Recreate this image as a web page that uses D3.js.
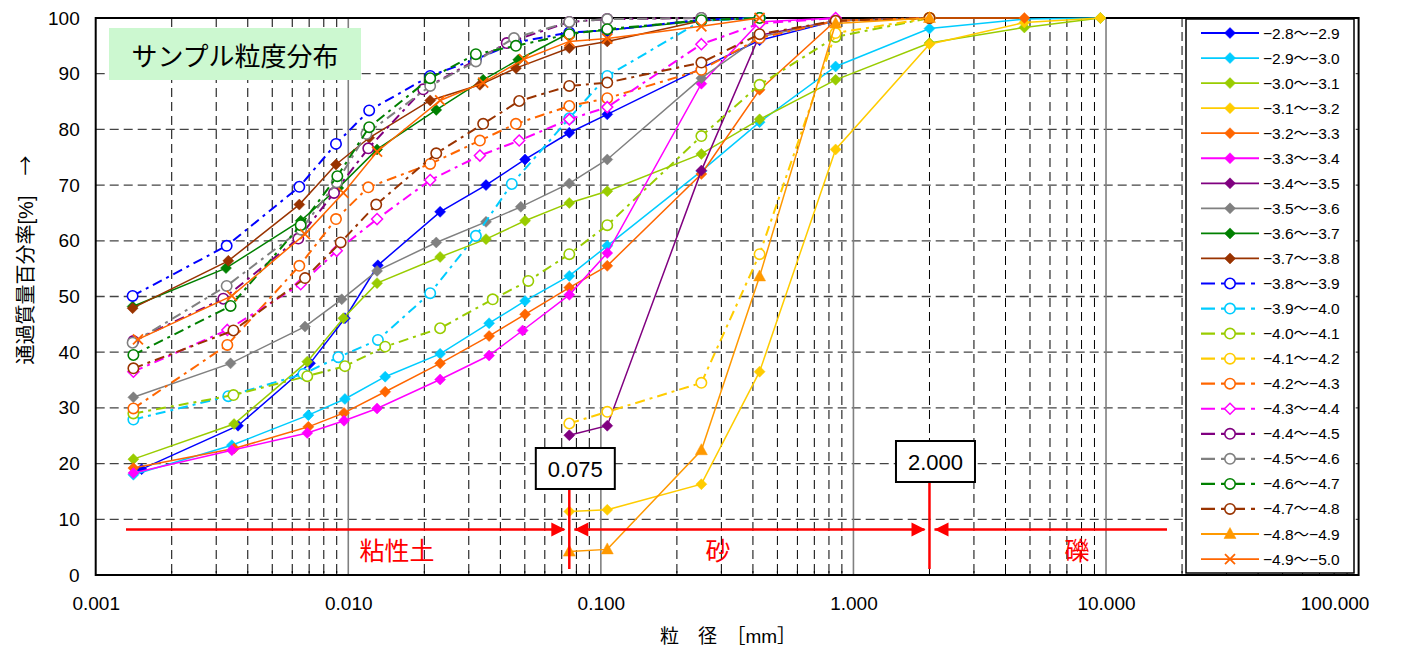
<!DOCTYPE html>
<html>
<head>
<meta charset="utf-8">
<script src="https://cdn.jsdelivr.net/npm/d3@7"></script>
<style>
  body { margin: 0; background: #fff; }
  text { font-family: "Liberation Sans", "Noto Sans CJK JP", sans-serif; }
</style>
</head>
<body>
<svg id="chart" width="1402" height="653"></svg>
<script>
// series names (legend order)
var legendLabels = [
  "−2.8〜−2.9", "−2.9〜−3.0", "−3.0〜−3.1", "−3.1〜−3.2", "−3.2〜−3.3",
  "−3.3〜−3.4", "−3.4〜−3.5", "−3.5〜−3.6", "−3.6〜−3.7", "−3.7〜−3.8",
  "−3.8〜−3.9", "−3.9〜−4.0", "−4.0〜−4.1", "−4.1〜−4.2", "−4.2〜−4.3",
  "−4.3〜−4.4", "−4.4〜−4.5", "−4.5〜−4.6", "−4.6〜−4.7", "−4.7〜−4.8",
  "−4.8〜−4.9", "−4.9〜−5.0"
];

// [grain size mm, passing %]
var s01 = [[0.00152,19.0],[0.00366,26.8],[0.00706,38.0],[0.0097,46.1],[0.0131,55.6],[0.0231,65.2],[0.0351,70.0],[0.0501,74.6],[0.075,79.4],[0.106,82.7],[0.25,91.0],[0.425,96.0],[0.85,99.5],[2.0,100]];
var s02 = [[0.00141,18.0],[0.00346,23.3],[0.00695,28.7],[0.0097,31.6],[0.0140,35.6],[0.0231,39.7],[0.0361,45.2],[0.0501,49.2],[0.075,53.7],[0.106,59.1],[0.25,72.5],[0.425,81.3],[0.85,91.3],[2.0,98.1],[4.75,99.8],[9.5,100]];
var s03 = [[0.00141,20.8],[0.00353,27.1],[0.00688,38.3],[0.00956,46.1],[0.0130,52.4],[0.0231,57.1],[0.0351,60.3],[0.0501,63.6],[0.075,66.8],[0.106,68.9],[0.25,75.6],[0.425,81.8],[0.85,88.9],[2.0,95.5],[4.75,98.3],[9.5,100]];
var s04 = [[0.075,11.4],[0.106,11.7],[0.25,16.3],[0.425,36.5],[0.85,76.4],[2.0,95.3],[4.75,99.2],[9.5,100]];
var s05 = [[0.00141,19.2],[0.00353,22.7],[0.00695,26.6],[0.00962,29.1],[0.0140,32.9],[0.0231,38.0],[0.0361,42.9],[0.0501,46.8],[0.075,51.6],[0.106,55.5],[0.25,72.0],[0.425,87.1],[0.85,99.5],[2.0,100],[4.75,100]];
var s06 = [[0.00141,18.3],[0.00346,22.4],[0.00688,25.5],[0.00962,27.7],[0.0130,29.9],[0.0231,35.1],[0.0361,39.4],[0.0490,43.9],[0.075,50.3],[0.106,57.8],[0.25,88.2],[0.425,99.3],[0.85,100]];
var s07 = [[0.075,25.1],[0.106,26.8],[0.25,72.6],[0.425,96.9],[0.85,99.5],[2.0,100]];
var s08 = [[0.00141,31.9],[0.00342,38.0],[0.00674,44.6],[0.00942,49.5],[0.0130,54.6],[0.0223,59.7],[0.0351,63.4],[0.0482,66.1],[0.075,70.3],[0.106,74.6],[0.25,89.2],[0.425,96.6],[0.85,99.5],[2.0,100]];
var s09 = [[0.0014,48.2],[0.00328,55.1],[0.00648,63.6],[0.00913,69.5],[0.0130,76.4],[0.0223,83.5],[0.0342,88.9],[0.0471,92.5],[0.075,97.3],[0.106,97.8],[0.25,99.5],[0.425,100]];
var s10 = [[0.0014,47.9],[0.00335,56.4],[0.0064,66.5],[0.00894,73.7],[0.0121,78.5],[0.0211,85.2],[0.0332,88.0],[0.0461,91.0],[0.075,94.6],[0.106,95.8],[0.25,99.5],[0.425,100]];
var s11 = [[0.0014,50.1],[0.0033,59.1],[0.0064,69.7],[0.00894,77.4],[0.0121,83.4],[0.0211,89.6],[0.0320,92.6],[0.0461,95.6],[0.075,97.4],[0.106,97.8],[0.25,99.7],[0.425,100]];
var s12 = [[0.00141,27.9],[0.00335,32.1],[0.00664,36.1],[0.00913,39.1],[0.0131,42.2],[0.0211,50.6],[0.0320,60.9],[0.0444,70.2],[0.075,82.0],[0.106,89.6],[0.25,99.5],[0.425,100]];
var s13 = [[0.00141,29.0],[0.00351,32.3],[0.00688,35.7],[0.0097,37.5],[0.0140,41.0],[0.0231,44.3],[0.0373,49.5],[0.0516,52.8],[0.075,57.6],[0.106,62.8],[0.25,78.8],[0.425,88.0],[0.85,96.6],[2.0,100]];
var s14 = [[0.075,27.2],[0.106,29.3],[0.25,34.5],[0.425,57.6],[0.85,97.3],[2.0,100]];
var s15 = [[0.00141,29.9],[0.00332,41.3],[0.0064,55.5],[0.00894,63.9],[0.0120,69.6],[0.0211,73.8],[0.0332,78.0],[0.0461,81.0],[0.075,84.2],[0.106,85.6],[0.25,90.7],[0.425,96.4],[0.85,99.5],[2.0,100]];
var s16 = [[0.00141,36.5],[0.00332,44.0],[0.00648,52.2],[0.0090,58.2],[0.0130,63.9],[0.0211,70.9],[0.0332,75.3],[0.0475,78.0],[0.075,81.8],[0.106,84.0],[0.25,95.3],[0.425,99.0],[0.85,100]];
var s17 = [[0.00141,42.0],[0.0032,49.6],[0.00634,60.4],[0.00878,68.6],[0.0120,76.6],[0.0198,87.2],[0.0424,95.5],[0.075,99.3],[0.106,99.8],[0.25,100]];
var s18 = [[0.0014,41.7],[0.0033,51.9],[0.0065,62.0],[0.0090,70.5],[0.0118,79.2],[0.0211,87.8],[0.0320,92.2],[0.0453,96.4],[0.075,99.3],[0.106,99.8],[0.25,100]];
var s19 = [[0.00141,39.5],[0.00342,48.3],[0.00648,62.8],[0.00905,71.6],[0.0121,80.4],[0.0211,89.2],[0.0320,93.5],[0.0461,95.0],[0.075,97.1],[0.106,98.0],[0.25,99.6],[0.425,100]];
var s20 = [[0.00141,37.1],[0.00351,43.9],[0.00674,53.3],[0.00933,59.7],[0.0129,66.5],[0.0223,75.7],[0.0342,81.0],[0.0475,85.1],[0.075,87.8],[0.106,88.4],[0.25,92.0],[0.425,97.1],[0.85,99.5],[2.0,100]];
var s21 = [[0.075,4.2],[0.106,4.6],[0.25,22.4],[0.425,53.6],[0.85,99.0],[2.0,100]];
var s22 = [[0.00147,42.3],[0.00346,50.1],[0.00674,61.2],[0.00956,68.6],[0.0130,76.0],[0.0231,85.2],[0.0342,88.4],[0.0496,92.6],[0.075,95.8],[0.106,96.3],[0.25,98.5],[0.425,100]];

var seriesData = [s01,s02,s03,s04,s05,s06,s07,s08,s09,s10,s11,s12,s13,s14,s15,s16,s17,s18,s19,s20,s21,s22];

var xTicks = [0.001, 0.01, 0.1, 1, 10, 100];
var xTickLabels = ["0.001", "0.010", "0.100", "1.000", "10.000", "100.000"];
var yTicks = [0, 10, 20, 30, 40, 50, 60, 70, 80, 90, 100];
var boundaries = [0.075, 2.0];
var boundaryLabels = ["0.075", "2.000"];
var zoneLabels = ["粘性土", "砂", "礫"];

// styles, one per series
var colors = ["#0000FF","#00CCFF","#99CC00","#FFCC00","#FF6600","#FF00FF","#800080","#808080","#008000","#993300",
              "#0000FF","#00CCFF","#99CC00","#FFCC00","#FF6600","#FF00FF","#800080","#808080","#008000","#993300",
              "#FF9900","#FF6600"];
var markers = ["diamond","diamond","diamond","diamond","diamond","diamond","diamond","diamond","diamond","diamond",
               "circle","circle","circle","circle","circle","odiamond","circle","circle","circle","circle",
               "triangle","cross"];
var dashed = [0,0,0,0,0,0,0,0,0,0, 1,1,1,1,1,1,1,1,1,1, 0,0];

var svg = d3.select("#chart");
var pL = 95.7, pR = 1358.6, pT = 18, pB = 575;

var x = d3.scaleLog().domain([0.001, 100]).range([pL, pR]);
var y = d3.scaleLinear().domain([0, 100]).range([pB, pT]);

// minor grid values
var minor = [];
[0.001, 0.01, 0.1, 1, 10].forEach(function(dec) {
    for (var k = 2; k <= 9; k++) minor.push(dec * k);
});

var grid = svg.append("g");
grid.selectAll("line.hg")
    .data(yTicks.filter(function(v) { return v > 0 && v < 100; }))
    .enter().append("line")
    .attr("x1", pL).attr("x2", pR)
    .attr("y1", function(d) { return y(d); }).attr("y2", function(d) { return y(d); })
    .attr("stroke", "#444").attr("stroke-width", 1.3).attr("stroke-dasharray", "9,5");
grid.selectAll("line.vg")
    .data(minor)
    .enter().append("line")
    .attr("x1", function(d) { return x(d); }).attr("x2", function(d) { return x(d); })
    .attr("y1", pT).attr("y2", pB)
    .attr("stroke", "#000").attr("stroke-width", 1).attr("stroke-dasharray", "9,5");
grid.selectAll("line.dg")
    .data(xTicks.slice(1, 5))
    .enter().append("line")
    .attr("x1", function(d) { return x(d); }).attr("x2", function(d) { return x(d); })
    .attr("y1", pT).attr("y2", pB)
    .attr("stroke", "#808080").attr("stroke-width", 1.6);

// axes
var yAxis = svg.append("g")
    .attr("transform", "translate(" + pL + ",0)")
    .call(d3.axisLeft(y).tickValues(yTicks).tickSize(0).tickPadding(16));
yAxis.select(".domain").remove();
yAxis.selectAll("text").attr("font-size", 19).attr("fill", "#000")
    .style("font-family", "'Liberation Sans', sans-serif");

var xAxis = svg.append("g")
    .attr("transform", "translate(0," + pB + ")")
    .call(d3.axisBottom(x).tickValues(xTicks).tickSize(0).tickPadding(22)
        .tickFormat(function(d, i) { return xTickLabels[i]; }));
xAxis.select(".domain").remove();
xAxis.selectAll("text").attr("font-size", 19).attr("fill", "#000")
    .style("font-family", "'Liberation Sans', sans-serif");
// last label is pulled inside the chart area
xAxis.selectAll("text").filter(function(d) { return d === 100; }).attr("dx", -24);

// small minor ticks on bottom axis
svg.append("g").selectAll("line")
    .data(minor)
    .enter().append("line")
    .attr("x1", function(d) { return x(d); }).attr("x2", function(d) { return x(d); })
    .attr("y1", pB - 4).attr("y2", pB)
    .attr("stroke", "#000");

// plot frame
svg.append("rect")
    .attr("x", pL).attr("y", pT)
    .attr("width", pR - pL).attr("height", pB - pT)
    .attr("fill", "none").attr("stroke", "#000").attr("stroke-width", 2);

// axis titles
var yTitle = svg.append("text")
    .attr("transform", "translate(33,260) rotate(-90)")
    .attr("text-anchor", "middle")
    .attr("font-size", 20);
yTitle.append("tspan").text("通過質量百分率[%]　");
yTitle.append("tspan").style("font-family", "'Noto Sans CJK JP', sans-serif").text("→");
svg.append("text")
    .attr("x", 728).attr("y", 643)
    .attr("text-anchor", "middle")
    .attr("font-size", 19)
    .text("粒　径　［mm］");

// title box
svg.append("rect")
    .attr("x", 109).attr("y", 28).attr("width", 252).attr("height", 52)
    .attr("fill", "#CCF8D0");
svg.append("text")
    .attr("x", 235).attr("y", 66)
    .attr("text-anchor", "middle")
    .attr("font-size", 26)
    .text("サンプル粒度分布");

function markerPath(type) {
    if (type === "diamond" || type === "odiamond") return "M0,-5.5L5.5,0L0,5.5L-5.5,0Z";
    if (type === "triangle") return "M0,-6.5L6,4.5L-6,4.5Z";
    if (type === "cross") return "M-5,-5L5,5M-5,5L5,-5";
    return null;
}

function drawMarker(sel, i) {
    var m = markers[i], c = colors[i];
    if (m === "circle") {
        sel.append("circle").attr("r", 5.2)
            .attr("fill", "#fff").attr("stroke", c).attr("stroke-width", 1.6);
    } else if (m === "odiamond") {
        sel.append("path").attr("d", markerPath(m))
            .attr("fill", "#fff").attr("stroke", c).attr("stroke-width", 1.5);
    } else if (m === "cross") {
        sel.append("path").attr("d", markerPath(m))
            .attr("fill", "none").attr("stroke", c).attr("stroke-width", 1.8);
    } else {
        sel.append("path").attr("d", markerPath(m))
            .attr("fill", c).attr("stroke", c).attr("stroke-width", 0.5);
    }
}

var line = d3.line()
    .x(function(d) { return x(d[0]); })
    .y(function(d) { return y(d[1]); });

var plot = svg.append("g");
seriesData.forEach(function(data, i) {
    var g = plot.append("g");
    g.append("path")
        .datum(data)
        .attr("d", line)
        .attr("fill", "none")
        .attr("stroke", colors[i])
        .attr("stroke-width", dashed[i] ? 2 : 1.5)
        .attr("stroke-dasharray", dashed[i] ? "10,5,3,5" : null);
    g.selectAll("g.pt")
        .data(data)
        .enter().append("g")
        .attr("transform", function(d) { return "translate(" + x(d[0]) + "," + y(d[1]) + ")"; })
        .each(function() { drawMarker(d3.select(this), i); });
});

// zone annotation
var red = "#FF0000";
var ann = svg.append("g");
var arrowY = 529.5;
var bx = boundaries.map(function(d) { return x(d); });
var segs = [[126, bx[0] - 5], [bx[0] + 5, bx[1] - 5], [bx[1] + 5, 1167]];
segs.forEach(function(s) {
    ann.append("line").attr("x1", s[0]).attr("x2", s[1])
        .attr("y1", arrowY).attr("y2", arrowY)
        .attr("stroke", red).attr("stroke-width", 2.5);
});
bx.forEach(function(px) {
    ann.append("path")
        .attr("d", "M" + (px - 4) + "," + arrowY + "l-14,-7v14Z").attr("fill", red);
    ann.append("path")
        .attr("d", "M" + (px + 5) + "," + arrowY + "l14,-7v14Z").attr("fill", red);
});
boundaries.forEach(function(d, i) {
    var px = x(d);
    var boxTop = i === 0 ? 448 : 441;
    ann.append("line").attr("x1", px).attr("x2", px)
        .attr("y1", boxTop + 41).attr("y2", 569)
        .attr("stroke", red).attr("stroke-width", 2.5);
    ann.append("rect")
        .attr("x", px + 6 - 39.5).attr("y", boxTop)
        .attr("width", 79).attr("height", 41)
        .attr("fill", "#fff").attr("stroke", "#000").attr("stroke-width", 2);
    ann.append("text")
        .attr("x", px + 6).attr("y", boxTop + 28.5)
        .attr("text-anchor", "middle")
        .attr("font-size", 22)
        .text(boundaryLabels[i]);
});
var zoneX = [397, 718, 1077];
zoneLabels.forEach(function(t, i) {
    ann.append("text")
        .attr("x", zoneX[i]).attr("y", 560)
        .attr("text-anchor", "middle")
        .attr("font-size", 25)
        .attr("fill", red)
        .text(t);
});

// legend
var legend = svg.append("g");
legend.append("rect")
    .attr("x", 1186).attr("y", 19).attr("width", 168).attr("height", 554)
    .attr("fill", "#fff").attr("stroke", "#000").attr("stroke-width", 1.5);
legendLabels.forEach(function(name, i) {
    var ly = 33 + i * 25.05;
    var g = legend.append("g");
    g.append("line").attr("x1", 1201).attr("x2", 1259)
        .attr("y1", ly).attr("y2", ly)
        .attr("stroke", colors[i])
        .attr("stroke-width", dashed[i] ? 2.2 : 1.8)
        .attr("stroke-dasharray", dashed[i] ? "14,6,4,6" : null);
    var m = g.append("g").attr("transform", "translate(1230," + ly + ")");
    drawMarker(m, i);
    g.append("text")
        .attr("x", 1263).attr("y", ly + 5.5)
        .attr("font-size", 15.5)
        .text(name);
});
</script>
</body>
</html>
